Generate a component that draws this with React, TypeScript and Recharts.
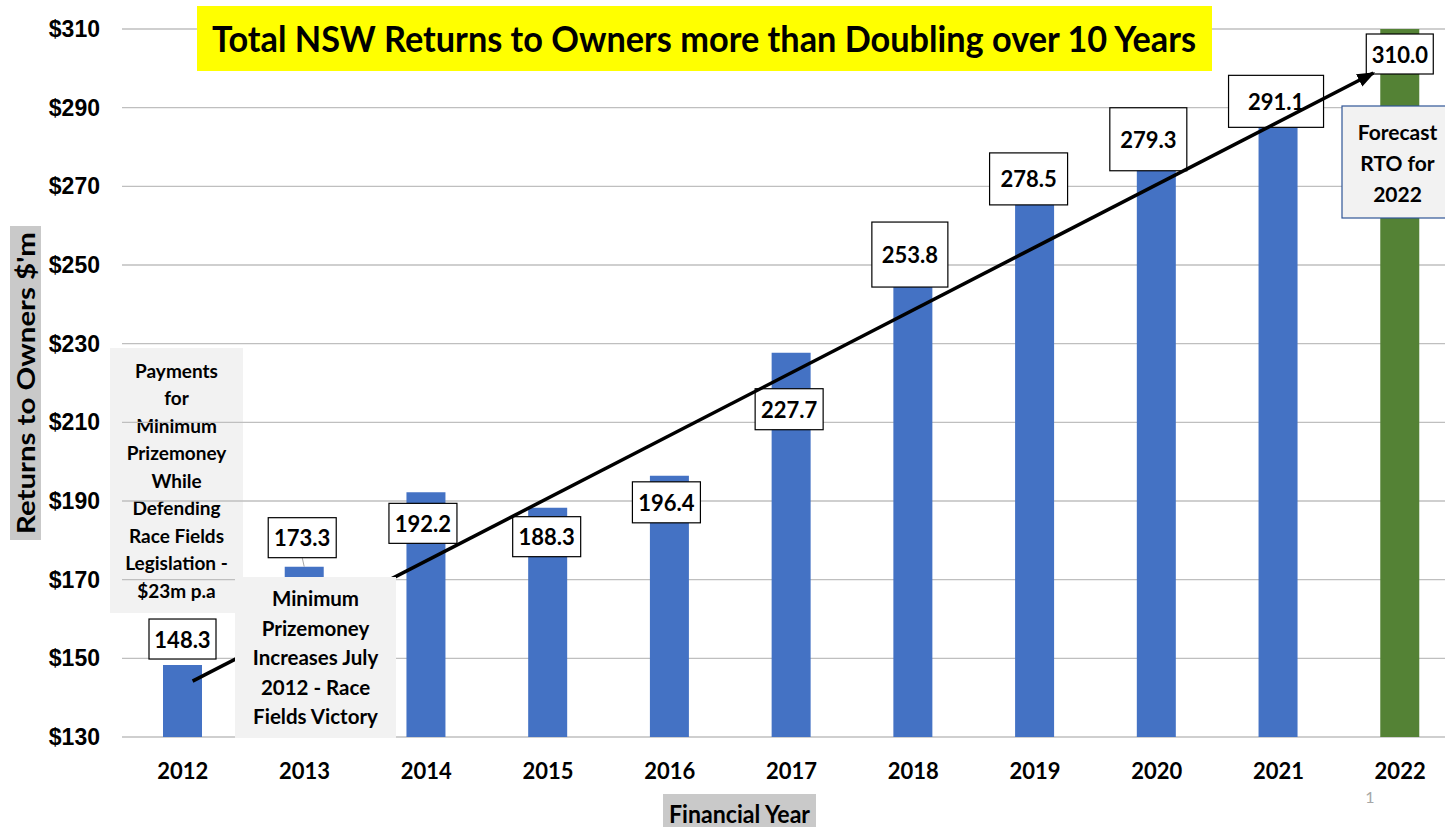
import React from "react";
import { Bar, CartesianGrid, Cell, ComposedChart, LabelList, Line, XAxis, YAxis } from "recharts";

const years = ["2012", "2013", "2014", "2015", "2016", "2017", "2018", "2019", "2020", "2021", "2022"];
const returns = [148.3, 173.3, 192.2, 188.3, 196.4, 227.7, 253.8, 278.5, 279.3, 291.1, 310.0];
const yTicks = [130, 150, 170, 190, 210, 230, 250, 270, 290, 310];
// trend arrow, in category-index units on a hidden numeric axis
const trendX = [0.08, 9.78];
const trendY = [144.2, 298.8];

const paymentsLines = ["Payments", "for", "Minimum", "Prizemoney", "While", "Defending", "Race Fields", "Legislation -", "$23m p.a"];
const minimumLines = ["Minimum", "Prizemoney", "Increases July", "2012 - Race", "Fields Victory"];
const forecastLines = ["Forecast", "RTO for", "2022"];

const BLUE = "#4472C4";
const GREEN = "#548235";
const CAL = "Lato, 'Open Sans', sans-serif";

const chartData = years.map((year, i) => ({ year, value: returns[i] }));
const trendData = trendX.map((x, i) => ({ x, y: trendY[i] }));

// label boxes were moved by hand in the original, offsets from the bar top centre
const labelBoxes = [
  { dx: 0, dy: -46, w: 67, h: 40 },
  { dx: -2, dy: -49, w: 68, h: 40, leader: true },
  { dx: -3, dy: 11, w: 68, h: 40 },
  { dx: -1, dy: 9, w: 68, h: 40 },
  { dx: -3, dy: 6, w: 68, h: 41 },
  { dx: -2, dy: 36, w: 68, h: 41 },
  { dx: -3, dy: -28, w: 76, h: 65 },
  { dx: -6, dy: 0, w: 78, h: 52 },
  { dx: -8, dy: -42, w: 77, h: 63 },
  { dx: -2, dy: -28, w: 95, h: 52 },
  { dx: 0, dy: 5, w: 67, h: 40 },
];

function renderLabel(props: any) {
  const vb = props.viewBox ?? props;
  const x = Number(vb.x ?? props.x);
  const y = Number(vb.y ?? props.y);
  const width = Number(vb.width ?? props.width);
  const idx = props.index ?? 0;
  const box = labelBoxes[idx];
  if (!box) return null;
  const cx = x + width / 2;
  const bx = cx + box.dx;
  const by = y + box.dy;
  return (
    <g>
      {box.leader && <line x1={bx} y1={by + box.h} x2={cx} y2={y} stroke="#A6A6A6" strokeWidth={1} />}
      <rect x={bx - box.w / 2} y={by} width={box.w} height={box.h} fill="#fff" stroke="#000" strokeWidth={1.2} />
      <text
        x={bx}
        y={by + box.h / 2}
        textAnchor="middle"
        dominantBaseline="central"
        fontFamily={CAL}
        fontWeight={700}
        fontSize={22}
        fill="#000"
      >
        {Number(props.value).toFixed(1)}
      </text>
    </g>
  );
}

function TextLines({ lines, cx, y0, step, size }: { lines: string[]; cx: number; y0: number; step: number; size: number }) {
  return (
    <>
      {lines.map((l, i) => (
        <text
          key={l}
          x={cx}
          y={y0 + i * step}
          textAnchor="middle"
          dominantBaseline="central"
          fontFamily={CAL}
          fontWeight={700}
          fontSize={size}
          fill="#000"
        >
          {l}
        </text>
      ))}
    </>
  );
}

export default function App() {
  const layer: React.CSSProperties = { position: "absolute", left: 0, top: 0, pointerEvents: "none" };
  return (
    <div style={{ position: "absolute", left: 0, top: 0, width: 1445, height: 827, overflow: "hidden", background: "#fff" }}>
      <svg width={0} height={0} style={{ position: "absolute" }}>
        <defs>
          <marker id="trendArrow" markerUnits="userSpaceOnUse" markerWidth={18} markerHeight={14} viewBox="0 0 18 14" refX={16} refY={7} orient="auto">
            <path d="M0,0 L18,7 L0,14 z" fill="#000" />
          </marker>
        </defs>
      </svg>

      {/* this box sits behind the gridlines in the original */}
      <svg width={1445} height={827} style={layer}>
        <rect x={110} y={348} width={133} height={265} fill="#F2F2F2" />
        <TextLines lines={paymentsLines} cx={176.5} y0={370} step={27.5} size={19} />
      </svg>

      <div style={{ position: "absolute", left: 0, top: 0 }}>
        <ComposedChart width={1461} height={827} data={chartData} margin={{ top: 29, right: 0, bottom: 0, left: 0 }}>
          <CartesianGrid vertical={false} stroke="#BFBFBF" strokeWidth={1.3} />
          <XAxis
            dataKey="year"
            height={90}
            interval={0}
            axisLine={false}
            tickLine={false}
            tickSize={0}
            tickMargin={26}
            tick={{ fontFamily: CAL, fontWeight: 700, fontSize: 22, fill: "#000" }}
          />
          <XAxis xAxisId="trend" dataKey="x" type="number" domain={[-0.5, 10.5]} allowDataOverflow hide />
          <YAxis
            width={122}
            domain={[130, 310]}
            ticks={yTicks}
            interval={0}
            allowDataOverflow
            axisLine={false}
            tickLine={false}
            tickSize={0}
            tickMargin={22}
            tickFormatter={(v) => `$${v}`}
            tick={{ fontFamily: "'Liberation Sans', Arial, sans-serif", fontWeight: 700, fontSize: 23, fill: "#000" }}
          />
          <Bar dataKey="value" barSize={39} isAnimationActive={false}>
            {chartData.map((d, i) => (
              <Cell key={d.year} fill={i === chartData.length - 1 ? GREEN : BLUE} />
            ))}
            <LabelList dataKey="value" content={renderLabel} />
          </Bar>
          <Line
            xAxisId="trend"
            data={trendData}
            dataKey="y"
            type="linear"
            stroke="#000"
            strokeWidth={3.5}
            dot={false}
            activeDot={false}
            markerEnd="url(#trendArrow)"
            zIndex={2500}
            isAnimationActive={false}
          />
        </ComposedChart>
      </div>

      <svg width={1445} height={827} style={layer}>
        <rect x={197} y={6} width={1015} height={65} fill="#FFFF00" />
        <text
          x={704}
          y={52}
          textAnchor="middle"
          fontFamily={CAL}
          fontWeight={700}
          fontSize={37}
          textLength={984}
          lengthAdjust="spacingAndGlyphs"
          fill="#000"
        >
          Total NSW Returns to Owners more than Doubling over 10 Years
        </text>

        <rect x={235} y={577} width={161} height={161} fill="#F2F2F2" />
        <TextLines lines={minimumLines} cx={315.5} y0={598} step={29.6} size={20.5} />

        <rect x={1342} y={106} width={110} height={112} fill="#F2F2F2" stroke="#2F5597" strokeWidth={1.2} />
        <TextLines lines={forecastLines} cx={1397.5} y0={131} step={31} size={21} />

        <rect x={10} y={226} width={31} height={314} fill="#C9C9C9" />
        <text
          x={25.5}
          y={383}
          transform="rotate(-90 25.5 383)"
          textAnchor="middle"
          dominantBaseline="central"
          fontFamily={CAL}
          fontWeight={700}
          fontSize={24}
          textLength={302}
          lengthAdjust="spacingAndGlyphs"
          fill="#000"
        >
          Returns to Owners $'m
        </text>

        <rect x={663} y={794} width={153} height={33} fill="#C9C9C9" />
        <text
          x={739.5}
          y={813}
          textAnchor="middle"
          dominantBaseline="central"
          fontFamily={CAL}
          fontWeight={700}
          fontSize={24}
          textLength={141}
          lengthAdjust="spacingAndGlyphs"
          fill="#000"
        >
          Financial Year
        </text>

        <text x={1370} y={796} textAnchor="middle" dominantBaseline="central" fontFamily={CAL} fontSize={16} fill="#A6A6A6">
          1
        </text>
      </svg>
    </div>
  );
}
